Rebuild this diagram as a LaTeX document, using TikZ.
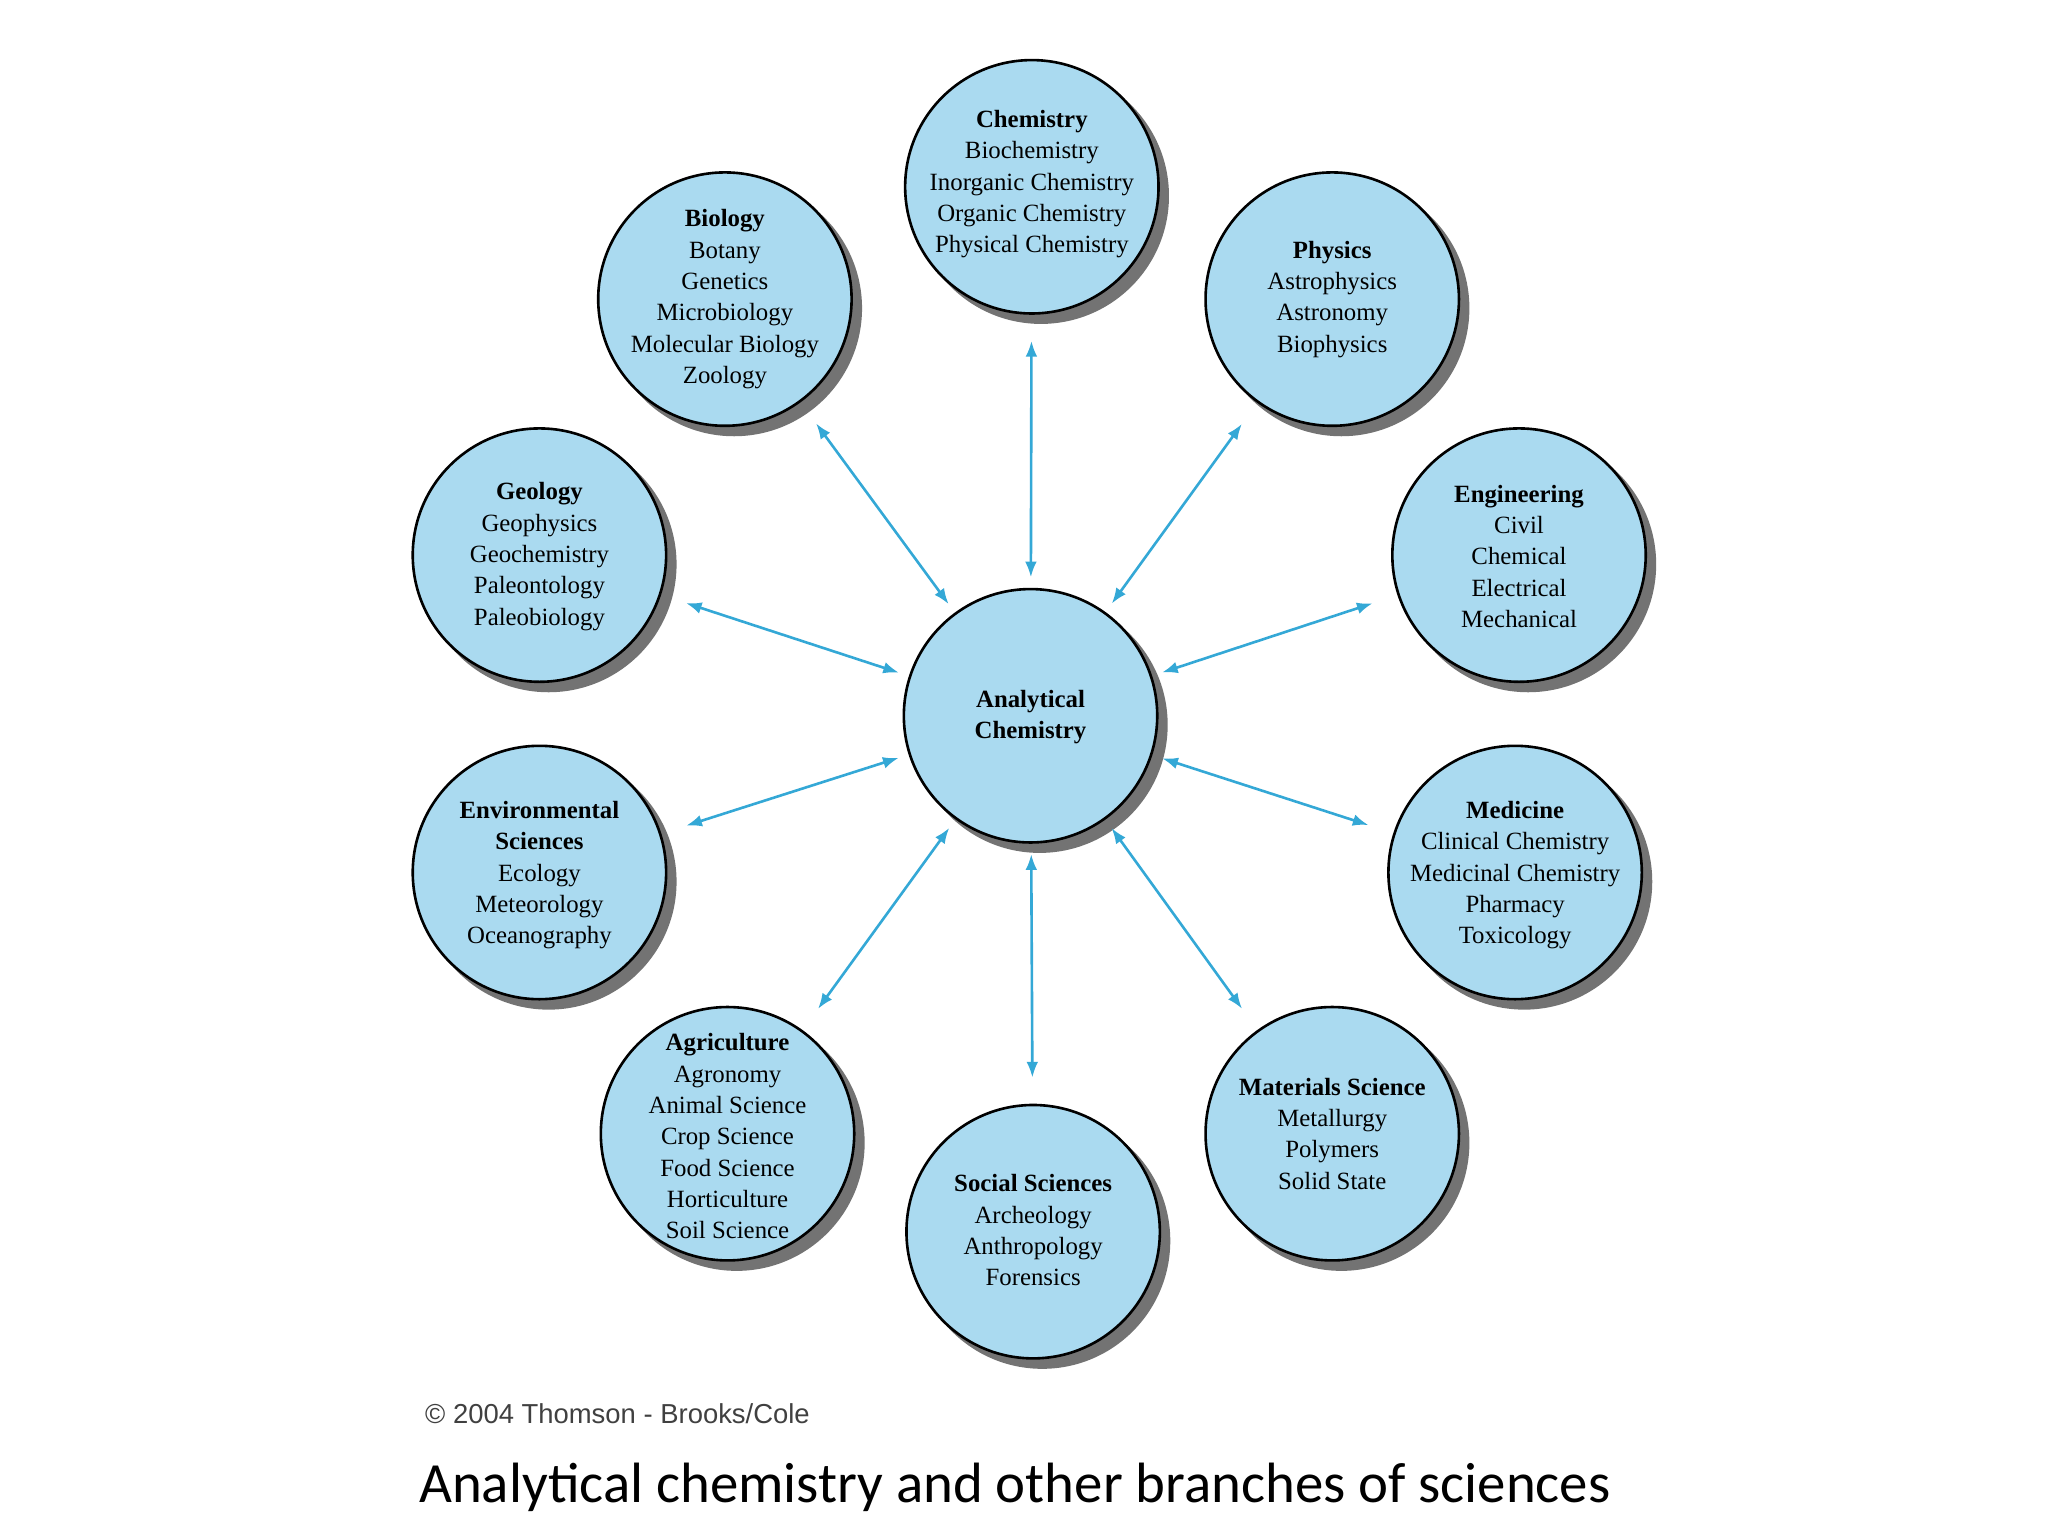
\documentclass[tikz,border=0pt]{standalone}
\usepackage{fontspec}
\usetikzlibrary{arrows.meta}
\setmainfont{Liberation Serif}
\newfontfamily\capfont{Carlito}
\newfontfamily\cpfont{Liberation Sans}
\begin{document}
\begin{tikzpicture}[x=1pt,y=-1pt,
  br/.style={circle,draw=black,line width=2pt,fill=cfill,minimum size=194pt,inner sep=0pt},
  tx/.style={align=center,font=\fontsize{19}{24}\selectfont,inner sep=0pt},
  sh/.style={circle,fill=black!55,minimum size=196pt,inner sep=0pt},
  ar/.style={{Latex[length=12pt,width=9pt]}-{Latex[length=12pt,width=9pt]},draw=arrowc,line width=2pt,shorten <=8pt,shorten >=20pt}]
\definecolor{cfill}{RGB}{170,218,240}
\definecolor{arrowc}{RGB}{52,168,214}
\useasboundingbox (0,0) rectangle (1568,1176);
\foreach \px/\py in {790/143,555/229,1020/229,413/425,1163/425,789/548,413/668,1160/668,557/868,791/943,1020/868}
  {\node[sh] at (\px+7,\py+7) {};}
\node[br] (chem) at (790,143) {};
\node[br] (bio) at (555,229) {};
\node[br] (phy) at (1020,229) {};
\node[br] (geo) at (413,425) {};
\node[br] (eng) at (1163,425) {};
\node[br] (ana) at (789,548) {};
\node[br] (env) at (413,668) {};
\node[br] (med) at (1160,668) {};
\node[br] (agr) at (557,868) {};
\node[br] (soc) at (791,943) {};
\node[br] (mat) at (1020,868) {};
\node[tx] (tchem) at (790,141) {\textbf{Chemistry}\\Biochemistry\\Inorganic Chemistry\\Organic Chemistry\\Physical Chemistry};
\node[tx] (tbio) at (555,229) {\textbf{Biology}\\Botany\\Genetics\\Microbiology\\Molecular Biology\\Zoology};
\node[tx] (tphy) at (1020,229) {\textbf{Physics}\\Astrophysics\\Astronomy\\Biophysics};
\node[tx] (tgeo) at (413,426) {\textbf{Geology}\\Geophysics\\Geochemistry\\Paleontology\\Paleobiology};
\node[tx] (teng) at (1163,426) {\textbf{Engineering}\\Civil\\Chemical\\Electrical\\Mechanical};
\node[tx] (tana) at (789,549) {\textbf{Analytical}\\\textbf{Chemistry}};
\node[tx] (tenv) at (413,670) {\textbf{Environmental}\\\textbf{Sciences}\\Ecology\\Meteorology\\Oceanography};
\node[tx] (tmed) at (1160,670) {\textbf{Medicine}\\Clinical Chemistry\\Medicinal Chemistry\\Pharmacy\\Toxicology};
\node[tx] (tagr) at (557,870) {\textbf{Agriculture}\\Agronomy\\Animal Science\\Crop Science\\Food Science\\Horticulture\\Soil Science};
\node[tx] (tsoc) at (791,942) {\textbf{Social Sciences}\\Archeology\\Anthropology\\Forensics};
\node[tx] (tmat) at (1020,868) {\textbf{Materials Science}\\Metallurgy\\Polymers\\Solid State};
\foreach \n in {chem,bio,phy,geo,eng,env,med,agr,soc,mat}
  {\draw[ar] (ana) -- (\n);}
\node[anchor=west,font=\cpfont\fontsize{21}{24}\selectfont,text=black!75] (cp) at (322,1082) {\textcopyright{} 2004 Thomson - Brooks/Cole};
\node[font=\capfont\fontsize{43.5}{50}\selectfont] (cap) at (777,1139) {Analytical chemistry and other branches of sciences};
\end{tikzpicture}
\end{document}
